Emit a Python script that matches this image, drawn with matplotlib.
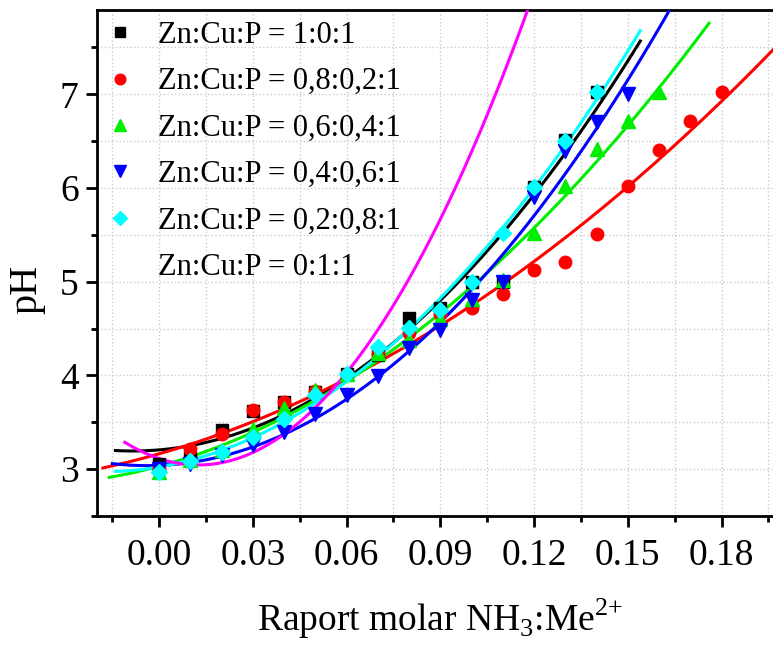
import numpy as np
import matplotlib
matplotlib.use('Agg')
import matplotlib.pyplot as plt
from matplotlib.lines import Line2D
from matplotlib.ticker import MultipleLocator

# molar ratio NH3:Me2+ (x) and measured pH for each Zn:Cu:P composition
x_10 = [0.00, 0.01, 0.02, 0.03, 0.04, 0.05, 0.06, 0.07, 0.08, 0.09, 0.10, 0.11, 0.12, 0.13, 0.14]
ph_10 = [3.05, 3.12, 3.42, 3.62, 3.72, 3.82, 4.02, 4.22, 4.61, 4.72, 5.00, 5.00, 6.01, 6.51, 7.02]

x_0802 = [0.00, 0.01, 0.02, 0.03, 0.04, 0.05, 0.06, 0.07, 0.08, 0.09, 0.10, 0.11, 0.12, 0.13,
          0.14, 0.15, 0.16, 0.17, 0.18]
ph_0802 = [3.00, 3.22, 3.37, 3.63, 3.72, 3.83, 4.02, 4.23, 4.45, 4.66, 4.72, 4.87, 5.12, 5.21,
           5.51, 6.02, 6.41, 6.72, 7.02]

x_0604 = [0.00, 0.01, 0.02, 0.03, 0.04, 0.05, 0.06, 0.07, 0.08, 0.09, 0.10, 0.11, 0.12, 0.13,
          0.14, 0.15, 0.16]
ph_0604 = [2.97, 3.10, 3.20, 3.43, 3.65, 3.84, 4.02, 4.24, 4.38, 4.60, 4.82, 5.02, 5.52, 6.02,
           6.42, 6.72, 7.02]

x_0406 = [0.00, 0.01, 0.02, 0.03, 0.04, 0.05, 0.06, 0.07, 0.08, 0.09, 0.10, 0.11, 0.12, 0.13,
          0.14, 0.15]
ph_0406 = [3.00, 3.06, 3.15, 3.26, 3.40, 3.59, 3.79, 3.99, 4.29, 4.48, 4.80, 5.00, 5.90, 6.40,
           6.70, 7.00]

x_0208 = [0.00, 0.01, 0.02, 0.03, 0.04, 0.05, 0.06, 0.07, 0.08, 0.09, 0.10, 0.11, 0.12, 0.13, 0.14]
ph_0208 = [2.97, 3.09, 3.18, 3.34, 3.53, 3.79, 4.02, 4.30, 4.51, 4.70, 5.00, 5.52, 6.01, 6.50, 7.02]

# 0:1:1 points are not shown in the figure, only their fit
x_011 = [0.00, 0.01, 0.02, 0.03, 0.04, 0.05, 0.06, 0.07, 0.08, 0.09, 0.10, 0.11]
ph_011 = [3.12, 3.05, 3.05, 3.18, 3.38, 3.66, 4.02, 4.49, 5.04, 5.67, 6.39, 7.19]

labels = ['Zn:Cu:P = 1:0:1', 'Zn:Cu:P = 0,8:0,2:1', 'Zn:Cu:P = 0,6:0,4:1',
          'Zn:Cu:P = 0,4:0,6:1', 'Zn:Cu:P = 0,2:0,8:1', 'Zn:Cu:P = 0:1:1']

series = [(x_10, ph_10, '#000000', 's', 8),
          (x_0802, ph_0802, '#ff0000', 'o', 9),
          (x_0604, ph_0604, '#00ee00', '^', 10),
          (x_0406, ph_0406, '#0000ff', 'v', 10),
          (x_0208, ph_0208, '#00ffff', 'D', 8),
          (x_011, ph_011, '#ff00ff', None, 0)]

plt.rcParams['font.family'] = 'Liberation Serif'
plt.rcParams['mathtext.fontset'] = 'custom'
plt.rcParams['mathtext.rm'] = 'Liberation Serif'

fig = plt.figure(figsize=(7.73, 6.45), dpi=100)
ax = fig.add_axes([96.7 / 773, 129 / 645, (784 - 96.7) / 773, 506 / 645])

handles = []
for (xs, ys, col, mk, ms), lab in zip(series, labels):
    xs = np.array(xs)
    ys = np.array(ys)
    # quadratic fit, drawn 10 % past the data on both sides
    coef = np.polyfit(xs, ys, 2)
    span = xs.max() - xs.min()
    xf = np.linspace(xs.min() - 0.1 * span, xs.max() + 0.1 * span, 200)
    ax.plot(xf, np.polyval(coef, xf), color=col, lw=2.2, zorder=3)
    if mk is not None:
        ax.plot(xs, ys, linestyle='none', marker=mk, color=col, ms=ms, zorder=4)
        handles.append(Line2D([], [], linestyle='none', marker=mk, color=col, ms=ms * 0.85))
    else:
        handles.append(Line2D([], [], linestyle='none', marker=None))

ax.set_xlim(-0.02, 0.2)
ax.set_ylim(2.5, 7.9)
ax.xaxis.set_major_locator(MultipleLocator(0.03))
ax.xaxis.set_minor_locator(MultipleLocator(0.015))
ax.yaxis.set_major_locator(MultipleLocator(1))
ax.yaxis.set_minor_locator(MultipleLocator(0.5))
ax.set_xticks([0.0, 0.03, 0.06, 0.09, 0.12, 0.15, 0.18])
ax.set_xticklabels(['0.00', '0.03', '0.06', '0.09', '0.12', '0.15', '0.18'])

ax.grid(True, which='both', linestyle=':', color='#cccccc', lw=1)
ax.set_axisbelow(True)
for sp in ax.spines.values():
    sp.set_linewidth(2)
ax.tick_params(which='major', direction='out', length=8, width=2, labelsize=27, pad=8)
ax.tick_params(which='minor', direction='out', length=4.5, width=2)
ax.tick_params(axis='y', which='major', pad=5)

ax.set_xlabel('Raport molar NH$_3$:Me$^{2{+}}$', fontsize=27)
ax.set_ylabel('pH', fontsize=29)
ax.xaxis.set_label_coords(0.5, -0.16)
ax.yaxis.set_label_coords(-0.074, 0.447)

ax.legend(handles, labels, loc='upper left', fontsize=22, frameon=False,
          handlelength=1.0, handletextpad=0.75, borderpad=0.0, borderaxespad=0.27,
          labelspacing=0.57, bbox_to_anchor=(0.0, 0.995))

plt.savefig('out.png', dpi=100)
